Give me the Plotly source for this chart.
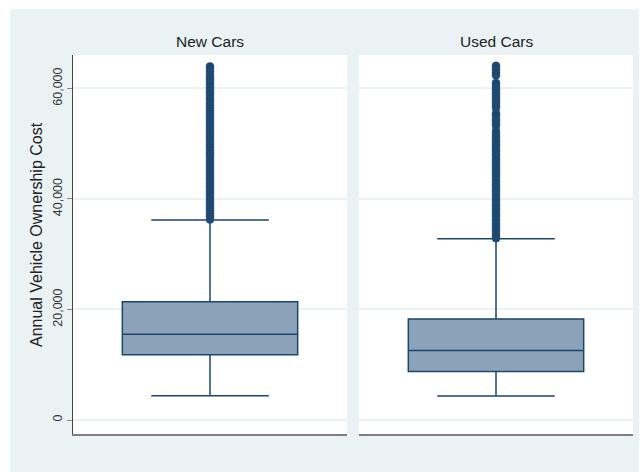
import plotly.graph_objects as go

W, H = 641, 472

groups = ["New Cars", "Used Cars"]
q1 = [11800, 8800]
median = [15500, 12600]
q3 = [21400, 18300]
lower_whisker = [4400, 4350]
upper_whisker = [36200, 32800]

new_outliers = [36300, 36700, 37000, 37400, 37900, 38300, 38700, 39200, 39600, 40000,
                40500, 41000, 41400, 41900, 42300, 42800, 43300, 43700, 44200, 44700,
                45100, 45600, 46100, 46500, 47000, 47500, 48000, 48400, 48900, 49400,
                49800, 50300, 50800, 51200, 51700, 52200, 52700, 53100, 53600, 54100,
                54600, 55000, 55500, 56000, 56400, 56900, 57400, 57900, 58300, 58800,
                59300, 59800, 60200, 60700, 61200, 61700, 62100, 62600, 63100, 63600, 64000]
used_outliers = [32900, 33300, 33700, 34200, 34600, 35100, 35500, 36000, 36400, 36900,
                 37300, 37800, 38200, 38700, 39100, 39600, 40000, 40500, 40900, 41400,
                 41800, 42300, 42700, 43200, 43600, 44100, 44500, 45000, 45400, 45900,
                 46300, 46800, 47200, 47700, 48100, 48600, 49000, 49500, 49900, 50400,
                 50800, 51300, 51800, 52300, 53300, 53700, 54200, 54600, 55100, 55500,
                 56500, 56900, 57400, 57800, 58300, 58700, 59200, 59600, 60100, 60600,
                 61000, 62400, 62800, 63300, 63700, 64100]

ytick_vals = [0, 20000, 40000, 60000]
ytick_text = ["0", "20,000", "40,000", "60,000"]
y_title = "Annual Vehicle Ownership Cost"

NAVY = "#1A476F"
FILL = "#8CA2B8"
BG = "#EAF2F3"
FONT = "Liberation Sans"

fig = go.Figure()
outliers = [new_outliers, used_outliers]
for i, g in enumerate(groups):
    xa = "x" if i == 0 else "x2"
    ya = "y" if i == 0 else "y2"
    fig.add_trace(go.Box(
        x=[g], q1=[q1[i]], median=[median[i]], q3=[q3[i]],
        lowerfence=[lower_whisker[i]], upperfence=[upper_whisker[i]],
        width=0.64, whiskerwidth=0.67, fillcolor=FILL,
        line=dict(color=NAVY, width=1.5), boxpoints=False,
        xaxis=xa, yaxis=ya, showlegend=False, hoverinfo="skip"))
    fig.add_trace(go.Scatter(
        x=[g] * len(outliers[i]), y=outliers[i], mode="markers",
        marker=dict(size=8, color=NAVY, line=dict(color="#2A5780", width=0.5)),
        xaxis=xa, yaxis=ya, showlegend=False, hoverinfo="skip"))

yrange = [-2534, 66060]
ydom = [1 - 434 / H, 1 - 55 / H]
common_y = dict(range=yrange, domain=ydom, showgrid=True, gridcolor=BG, gridwidth=1.5,
                zeroline=False, tickvals=ytick_vals, fixedrange=True)
fig.update_layout(
    width=W, height=H,
    margin=dict(l=0, r=0, t=0, b=0),
    paper_bgcolor="white", plot_bgcolor="rgba(0,0,0,0)",
    font=dict(family=FONT, color="#222222"),
    xaxis=dict(domain=[73 / W, 347 / W], range=[-0.5, 0.5], showticklabels=False,
               ticks="", showline=True, linecolor="#7f7f7f", linewidth=2, showgrid=False,
               type="category", anchor="y"),
    xaxis2=dict(domain=[359 / W, 633 / W], range=[-0.5, 0.5], showticklabels=False,
                ticks="", showline=True, linecolor="#7f7f7f", linewidth=2, showgrid=False,
                type="category", anchor="y2"),
    yaxis=dict(**common_y, ticktext=ytick_text, ticks="outside", ticklen=5,
               tickcolor="#888888", tickangle=-90, tickfont=dict(size=12.5, color="#333333"),
               showline=True, linecolor="#444444", linewidth=1),
    yaxis2=dict(**common_y, anchor="x2", showticklabels=False, ticks="", showline=False),
)

shapes = [dict(type="rect", xref="paper", yref="paper", x0=10 / W, x1=639 / W,
               y0=0, y1=1 - 9 / H, fillcolor=BG, line=dict(width=0), layer="below")]
for xr, yr in [("x domain", "y domain"), ("x2 domain", "y2 domain")]:
    shapes.append(dict(type="rect", xref=xr, yref=yr, x0=0, x1=1, y0=0, y1=1,
                       fillcolor="white", line=dict(width=0), layer="below"))
fig.update_layout(shapes=shapes)

for xc, t in [(210, "New Cars"), (496, "Used Cars")]:
    fig.add_annotation(x=xc / W, y=1 - 42 / H, xref="paper", yref="paper", text=t,
                       showarrow=False, font=dict(size=15.5, color="#222222", family=FONT),
                       xanchor="center", yanchor="middle")

fig.add_annotation(x=36 / W, y=1 - 235 / H, xref="paper", yref="paper", text=y_title,
                   textangle=-90, showarrow=False,
                   font=dict(size=16, color="#222222", family=FONT),
                   xanchor="center", yanchor="middle")

fig.write_html("out.html")
